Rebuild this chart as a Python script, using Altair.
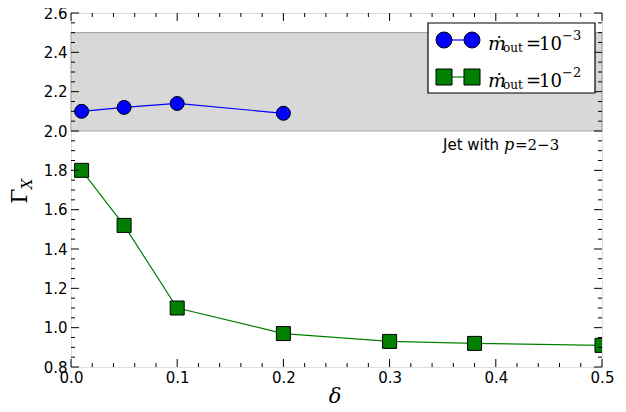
import altair as alt
import pandas as pd

# ---- data ----
delta_low = [0.01, 0.05, 0.1, 0.2]
gamma_low = [2.10, 2.12, 2.14, 2.09]
delta_high = [0.01, 0.05, 0.1, 0.2, 0.3, 0.38, 0.5]
gamma_high = [1.80, 1.52, 1.10, 0.97, 0.93, 0.92, 0.91]
band_lo = [2.0]
band_hi = [2.5]
x_major = [0.0, 0.1, 0.2, 0.3, 0.4, 0.5]
y_major = [0.8, 1.0, 1.2, 1.4, 1.6, 1.8, 2.0, 2.2, 2.4, 2.6]
x_minor = [round(0.02 * i, 2) for i in range(26) if i % 5]
y_minor = [round(0.8 + 0.05 * i, 2) for i in range(37) if i % 4]

W, H = 531, 354
XS = alt.Scale(domain=[0, 0.5], nice=False, zero=False)
YS = alt.Scale(domain=[0.8, 2.6], nice=False, zero=False)

low = pd.DataFrame({"d": delta_low, "g": gamma_low})
high = pd.DataFrame({"d": delta_high, "g": gamma_high})

xaxis = alt.Axis(values=x_major, format=".1f", title=None, ticks=False, tickSize=0,
                 domain=False, grid=False, labelFont="DejaVu Sans", labelFontSize=15,
                 labelColor="black", labelPadding=3, labelFlush=False, labelOverlap=False)
yaxis = alt.Axis(values=y_major, format=".1f", title=None, ticks=False, tickSize=0,
                 domain=False, grid=False, labelFont="DejaVu Sans", labelFontSize=15,
                 labelColor="black", labelPadding=4, labelFlush=False, labelOverlap=False)

def X(field):
    return alt.X(field, scale=XS, axis=xaxis)

def Y(field):
    return alt.Y(field, scale=YS, axis=yaxis)

band = alt.Chart(pd.DataFrame({"lo": band_lo, "hi": band_hi})).mark_rect(
    fill="#d8d8d8", stroke="#a8a8a8", strokeWidth=1.2
).encode(x=alt.value(0), x2=alt.value(W), y=Y("lo:Q"), y2="hi:Q")

line_low = alt.Chart(low).mark_line(color="#0000ff", strokeWidth=1.2, clip=True).encode(
    x=X("d:Q"), y=Y("g:Q"))
pts_low = alt.Chart(low).mark_point(shape="circle", filled=True, fill="#0000ff", stroke="black",
                                    strokeWidth=1, size=196, opacity=1, clip=True).encode(
    x=X("d:Q"), y=Y("g:Q"))
line_high = alt.Chart(high).mark_line(color="#008000", strokeWidth=1.2, clip=True).encode(
    x=X("d:Q"), y=Y("g:Q"))
pts_high = alt.Chart(high).mark_point(shape="square", filled=True, fill="#008000", stroke="black",
                                      strokeWidth=1, size=196, opacity=1, clip=True).encode(
    x=X("d:Q"), y=Y("g:Q"))

# ---- inward ticks on all four sides ----
def xticks(vals, ln):
    df = pd.DataFrame({"v": vals})
    b = alt.Chart(df).mark_rule(color="black", strokeWidth=1).encode(
        x=X("v:Q"), y=alt.value(H), y2=alt.value(H - ln))
    t = alt.Chart(df).mark_rule(color="black", strokeWidth=1).encode(
        x=X("v:Q"), y=alt.value(0), y2=alt.value(ln))
    return [b, t]

def yticks(vals, ln):
    df = pd.DataFrame({"v": vals})
    l = alt.Chart(df).mark_rule(color="black", strokeWidth=1).encode(
        y=Y("v:Q"), x=alt.value(0), x2=alt.value(ln))
    r = alt.Chart(df).mark_rule(color="black", strokeWidth=1).encode(
        y=Y("v:Q"), x=alt.value(W), x2=alt.value(W - ln))
    return [l, r]

ticks = xticks(x_major, 8) + xticks(x_minor, 4) + yticks(y_major, 8) + yticks(y_minor, 4)

# ---- legend ----
legend_box = alt.Chart(pd.DataFrame({"a": [0]})).mark_rect(
    fill="white", stroke="black", strokeWidth=1.2
).encode(x=alt.value(357), x2=alt.value(524), y=alt.value(10), y2=alt.value(80))

leg_lines = pd.DataFrame({"x1": [373, 373], "x2": [401, 401], "y": [27, 64],
                          "c": ["#0000ff", "#008000"]})
legend_lines = alt.Chart(leg_lines).mark_rule(strokeWidth=1.2).encode(
    x=alt.X("x1:Q", scale=None, axis=None), x2="x2:Q",
    y=alt.Y("y:Q", scale=None, axis=None), color=alt.Color("c:N", scale=None))
leg_pts = pd.DataFrame({"px": [373, 401, 373, 401], "py": [27, 27, 64, 64],
                        "c": ["#0000ff", "#0000ff", "#008000", "#008000"],
                        "s": ["circle", "circle", "square", "square"]})
legend_pts = alt.Chart(leg_pts).mark_point(filled=True, stroke="black", strokeWidth=1,
                                           size=256, opacity=1).encode(
    x=alt.X("px:Q", scale=None, axis=None), y=alt.Y("py:Q", scale=None, axis=None),
    fill=alt.Fill("c:N", scale=None), shape=alt.Shape("s:N", scale=None))

# ---- text pieces (legend labels, annotation, axis titles) ----
def text_layer(rows, font, style, align="left", baseline="alphabetic"):
    df = pd.DataFrame(rows, columns=["t", "px", "py", "fs", "ang"])
    return alt.Chart(df).mark_text(font=font, fontStyle=style, align=align,
                                   baseline=baseline, color="black").encode(
        x=alt.X("px:Q", scale=None, axis=None), y=alt.Y("py:Q", scale=None, axis=None),
        text="t:N", size=alt.Size("fs:Q", scale=None), angle=alt.Angle("ang:Q", scale=None))

italic_rows = [["ṁ", 417, 37, 19, 0], ["ṁ", 417, 74, 19, 0], ["p", 433, 137, 16, 0]]
regular_rows = [["=", 455, 37, 18, 0], ["=", 455, 74, 18, 0],
                ["10", 468, 37, 18, 0], ["10", 468, 74, 18, 0],
                ["=2−3", 444, 137, 15, 0]]
small_rows = [["out", 432, 39, 12, 0], ["out", 432, 76, 12, 0],
              ["−3", 491, 27, 13, 0], ["−2", 491, 64, 13, 0]]
sans_rows = [["Jet with", 372, 137, 15, 0]]
title_it = [["δ", 264, 390, 21, 0]]
gamma_rows = [["Γ", -44, 183, 22, 270]]
x_rows = [["X", -39, 171, 15, 270]]

texts = [
    text_layer(italic_rows, "DejaVu Serif", "italic"),
    text_layer(regular_rows, "DejaVu Serif", "normal"),
    text_layer(small_rows, "DejaVu Serif", "normal"),
    text_layer(sans_rows, "DejaVu Sans", "normal"),
    text_layer(title_it, "DejaVu Serif", "italic", align="center"),
    text_layer(gamma_rows, "DejaVu Serif", "normal", align="center"),
    text_layer(x_rows, "DejaVu Serif", "italic", align="center"),
]

chart = alt.layer(
    band, line_low, pts_low, line_high, pts_high, *ticks,
    legend_box, legend_lines, legend_pts, *texts
).properties(
    width=W, height=H,
    autosize=alt.AutoSizeParams(type="none"),
    padding={"left": 63, "top": 5, "right": 16, "bottom": 37},
).configure_view(stroke="black", strokeWidth=1.2).configure(background="white")

chart.save("out.html", embed_options={"renderer": "svg", "actions": False})
